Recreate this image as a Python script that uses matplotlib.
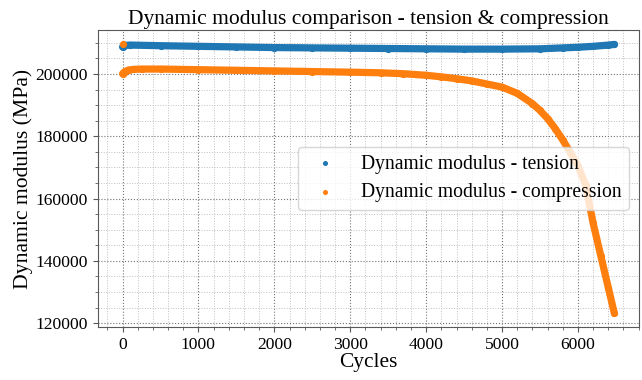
import matplotlib
matplotlib.use("Agg")
import matplotlib.pyplot as plt
from matplotlib.ticker import AutoMinorLocator

# Valores (ciclos, módulo dinámico en MPa)
ciclos_tension = [0, 30, 100, 500, 1000, 1500, 2000, 2500, 3000, 3500, 4000,
                  4500, 5000, 5500, 5800, 6000, 6200, 6400, 6480]
modulo_tension = [208700, 209200, 209300, 209100, 208900, 208700, 208500,
                  208400, 208300, 208200, 208100, 208000, 208000, 208100,
                  208400, 208600, 208900, 209300, 209500]

ciclos_compresion = [0, 0, 30, 80, 150, 250, 500, 1000, 1500, 2000, 2500,
                     3000, 3400, 3700, 4000, 4200, 4400, 4600, 4800, 5000,
                     5200, 5400, 5500, 5600, 5700, 5800, 5900, 6000, 6100,
                     6200, 6300, 6400, 6480]
modulo_compresion = [209800, 200100, 200800, 201300, 201500, 201600, 201600,
                     201400, 201200, 201000, 200800, 200600, 200400, 200100,
                     199600, 199100, 198500, 197800, 196800, 195800, 193800,
                     190500, 188300, 185700, 182500, 178800, 174800, 170500,
                     164500, 152100, 141700, 131400, 123100]

plt.rcParams['font.family'] = ['Liberation Serif', 'DejaVu Serif']
plt.rcParams['font.size'] = 12.6

fig = plt.figure(figsize=(6.42, 3.80), dpi=100)
ax = fig.add_axes([0.1526, 0.1395, 0.8427, 0.7815])

azul = '#1f77b4'
naranja = '#ff7f0e'

# Banda continua (la serie original es muy densa)
ax.plot(ciclos_tension, modulo_tension, color=azul, lw=5.2,
        solid_capstyle='round', zorder=2)
ax.plot(ciclos_compresion[1:], modulo_compresion[1:], color=naranja, lw=5.2,
        solid_capstyle='round', zorder=2)

ax.scatter(ciclos_tension, modulo_tension, s=27, color=azul, zorder=3,
           label='Dynamic modulus - tension', linewidths=0)
ax.scatter(ciclos_compresion, modulo_compresion, s=27, color=naranja, zorder=3,
           label='Dynamic modulus - compression', linewidths=0)

ax.set_title('Dynamic modulus comparison - tension & compression',
             fontsize=15.5, pad=4)
ax.set_xlabel('Cycles', fontsize=15.4, labelpad=0)
ax.set_ylabel('Dynamic modulus (MPa)', fontsize=15.6, labelpad=2)

ax.xaxis.set_minor_locator(AutoMinorLocator(5))
ax.yaxis.set_minor_locator(AutoMinorLocator(4))
ax.grid(True, which='major', linestyle=':', color='0.45', linewidth=0.8)
ax.grid(True, which='minor', linestyle=':', color='0.75', linewidth=0.7)
ax.set_axisbelow(True)

for s in ax.spines.values():
    s.set_color('0.35')
ax.tick_params(which='both', colors='0.35', labelcolor='black')

ax.legend(loc='center right', markerscale=0.7, framealpha=0.8, fontsize=14.1)

fig.savefig('out.png', dpi=100)
